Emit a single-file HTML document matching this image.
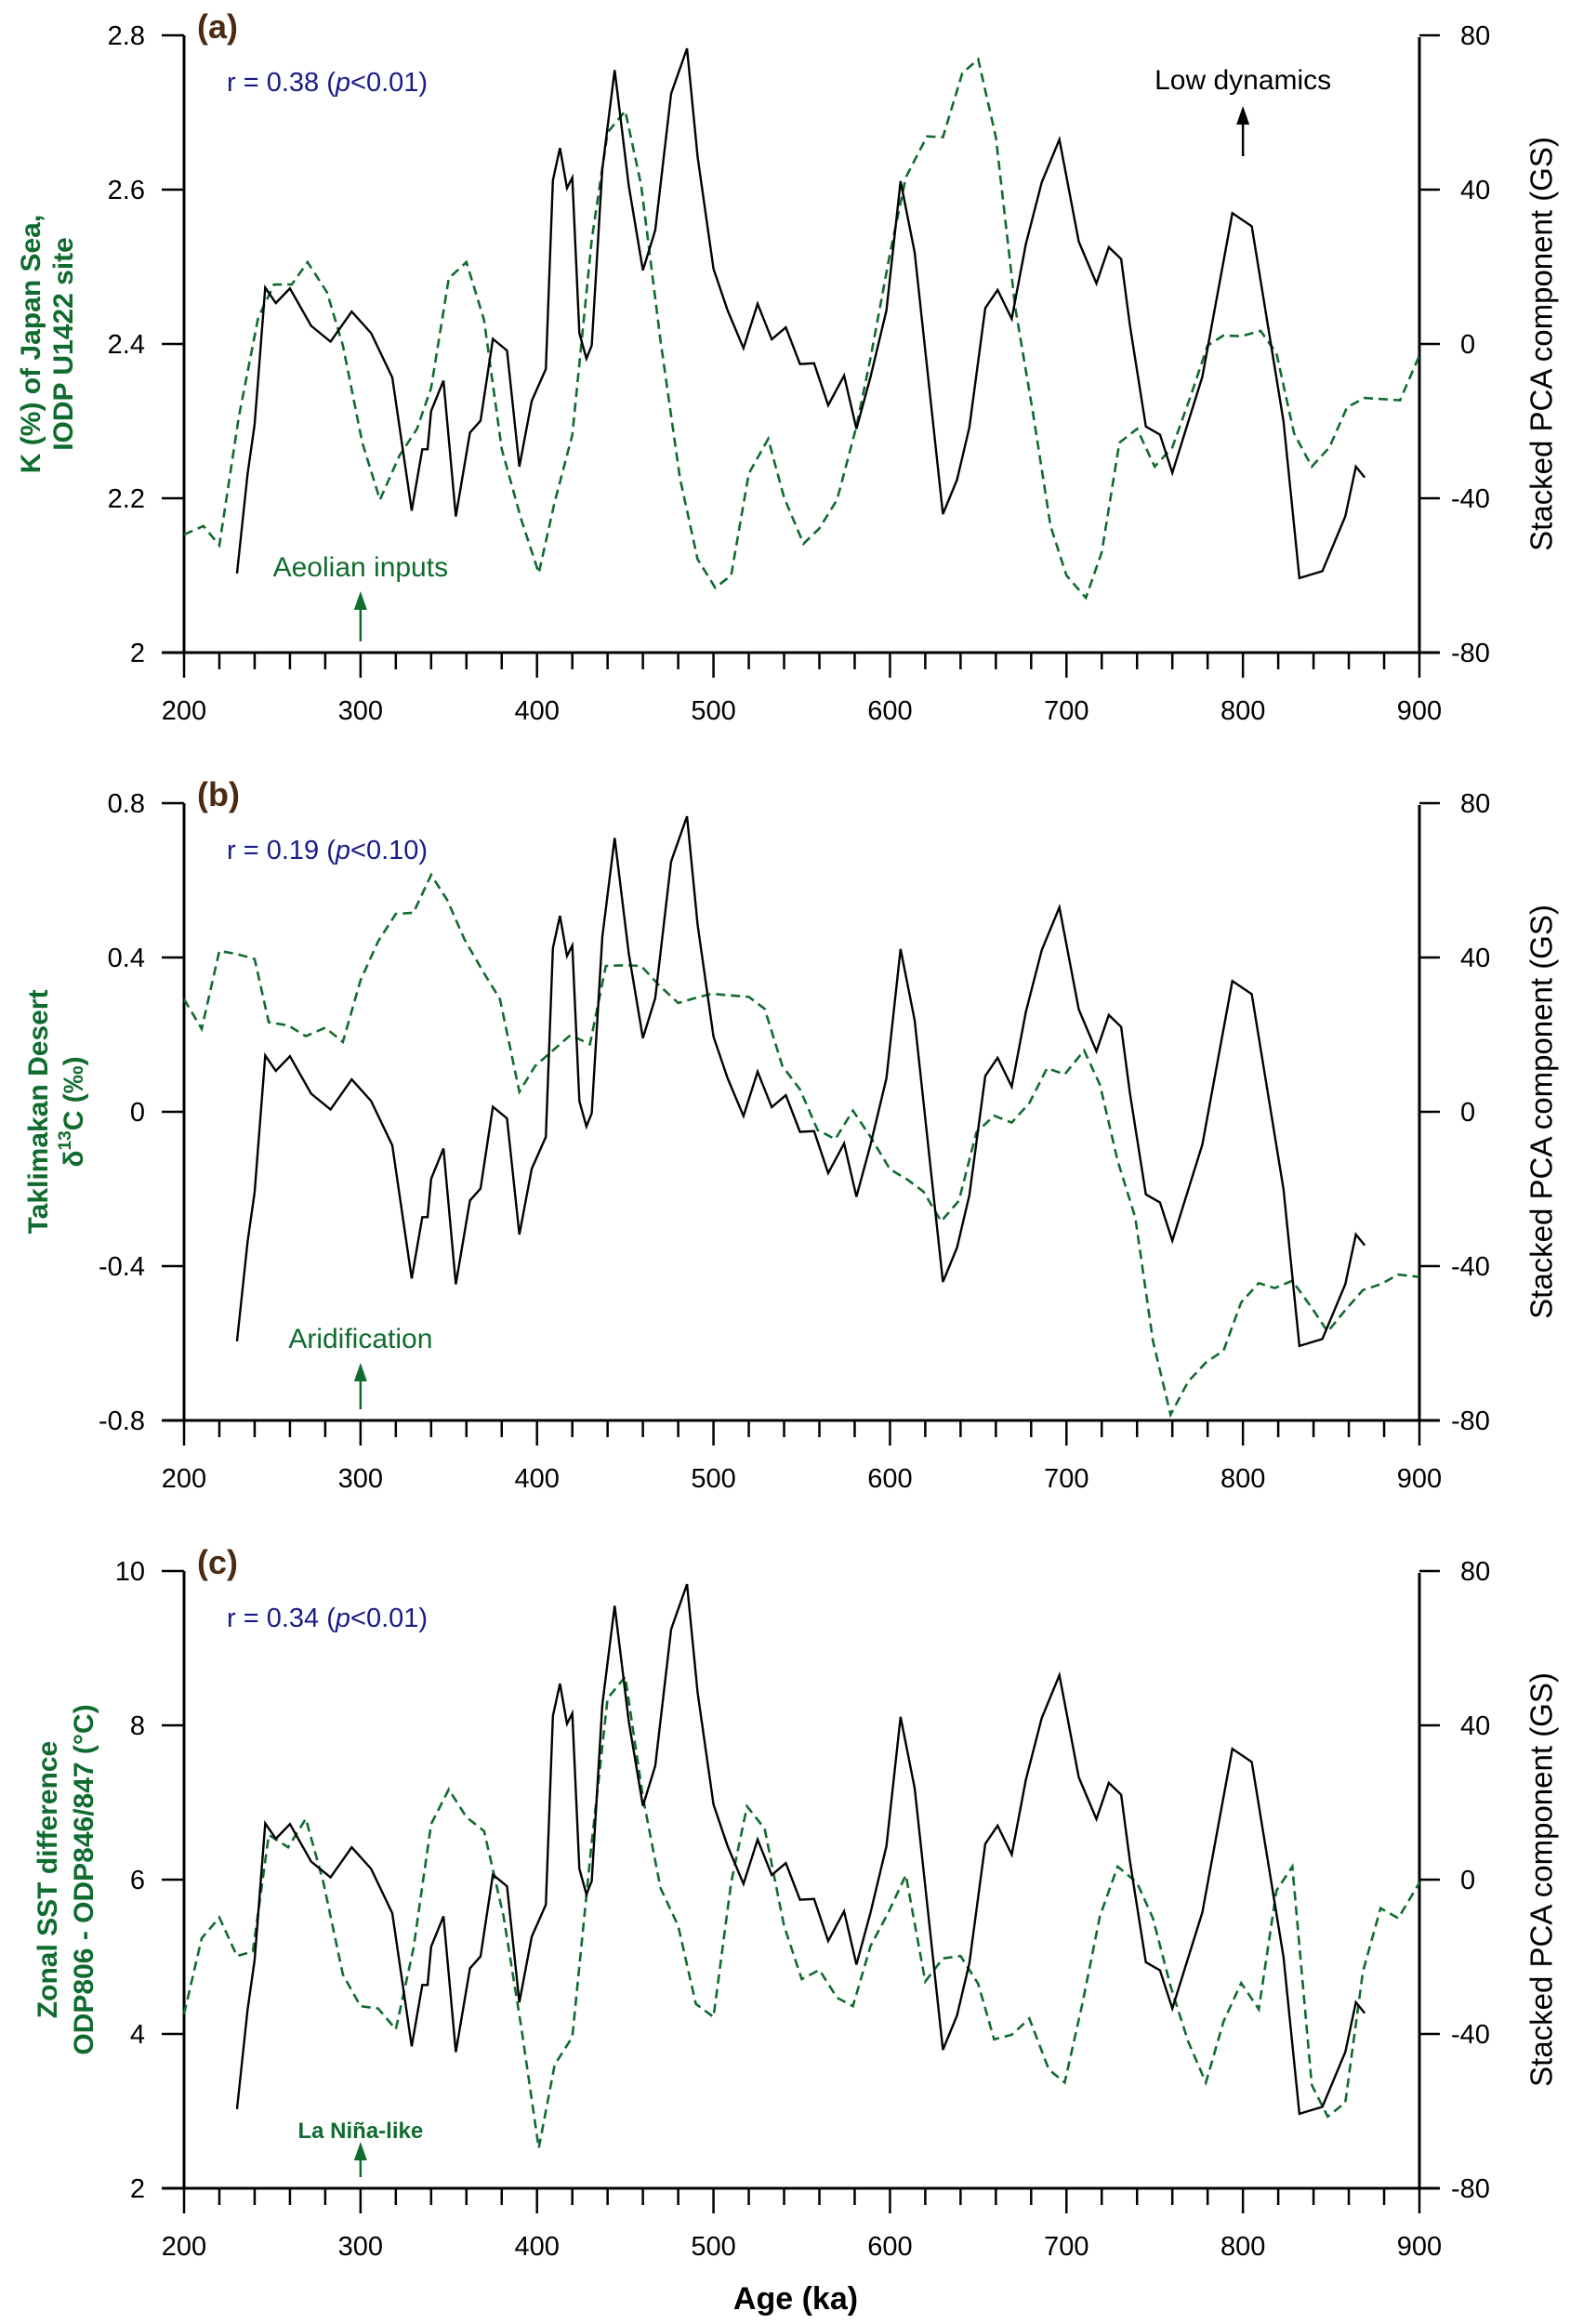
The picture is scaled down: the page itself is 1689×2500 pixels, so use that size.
<!DOCTYPE html>
<html><head><meta charset="utf-8"><style>
html,body{margin:0;padding:0;background:#fff;}
svg{display:block;font-family:"Liberation Sans",Arial,sans-serif;}
</style></head><body>
<svg id="chart" width="1689" height="2500" viewBox="0 0 1689 2500" xmlns="http://www.w3.org/2000/svg"></svg>
<script>
const gsAges=[230,236,240,246,252,260,272,283,295,306,318,329,335,338,340,347,354,362,368,375,383,390,397,405,409,413,417,420,424,428,431,437,444,452,460,467,476,485,491,500,508,517,525,533,541,549,557,565,574,581,589,598,606,614,630,638,645,654,661,669,677,686,696,707,717,724,731,736,745,753,760,777,794,805,823,832,845,858,864,869];
const gsValues=[-59.5,-33.7,-20.8,14.6,10.6,14.4,4.7,0.6,8.4,2.8,-8.7,-43.2,-27.3,-27.3,-17.4,-9.5,-44.7,-23,-19.9,1.3,-1.7,-31.8,-14.8,-6.5,42.4,50.8,40.4,43.1,2.8,-3.8,-0.4,45.3,71,41,19.1,29.5,64.9,76.6,48.5,19.5,8.7,-1.1,10.4,1.2,4.3,-5.2,-5,-15.9,-8.2,-22,-8.5,8.7,42.2,23.7,-44.1,-35.2,-21.6,9.3,14,6.5,25.9,41.9,53,26.5,15.7,25.1,22,4.7,-21.4,-23.5,-33.4,-8.5,33.9,30.5,-20.1,-60.7,-58.9,-44.7,-31.8,-34.6];
const kAges=[200,211,220,231,242,251,261,270,281,290,301,311,322,332,340,350,360,370,380,391,401,410,420,431,440,450,459,470,481,491,501,510,520,531,540,551,560,570,581,589,600,609,621,630,641,650,660,671,681,691,700,711,720,730,740,750,760,770,780,789,799,810,819,829,839,849,859,869,889,900];
const kValues=[2.153,2.164,2.139,2.305,2.434,2.477,2.477,2.506,2.467,2.398,2.272,2.198,2.255,2.290,2.343,2.485,2.506,2.431,2.264,2.173,2.103,2.195,2.282,2.535,2.674,2.702,2.606,2.404,2.226,2.121,2.084,2.100,2.232,2.277,2.201,2.141,2.161,2.198,2.293,2.382,2.517,2.616,2.669,2.668,2.751,2.769,2.668,2.447,2.311,2.164,2.100,2.071,2.130,2.272,2.290,2.241,2.266,2.330,2.398,2.411,2.410,2.417,2.388,2.284,2.241,2.266,2.318,2.330,2.327,2.385];
const d13Ages=[200,210,220,230,240,248,259,269,280,290,300,310,320,330,340,349,359,370,379,390,399,409,419,430,439,450,459,469,480,489,499,509,520,529,539,549,559,569,579,589,600,610,619,629,639,649,659,669,679,689,699,710,719,729,739,749,759,769,779,789,799,809,818,828,839,848,858,868,878,888,900];
const d13Values=[0.292,0.215,0.417,0.409,0.396,0.232,0.224,0.196,0.218,0.181,0.341,0.442,0.513,0.516,0.614,0.550,0.446,0.359,0.292,0.052,0.119,0.159,0.199,0.175,0.378,0.380,0.378,0.329,0.282,0.294,0.306,0.302,0.298,0.267,0.119,0.058,-0.047,-0.071,0.003,-0.065,-0.149,-0.176,-0.207,-0.284,-0.231,-0.053,-0.010,-0.028,0.023,0.113,0.097,0.159,0.070,-0.127,-0.274,-0.594,-0.785,-0.699,-0.650,-0.619,-0.494,-0.444,-0.457,-0.438,-0.508,-0.570,-0.514,-0.462,-0.447,-0.422,-0.428];
const sstAges=[200,210,220,230,239,248,259,269,279,290,300,310,320,330,340,350,360,370,381,391,401,410,420,431,440,450,460,470,480,490,500,510,519,529,540,550,560,570,579,589,599,609,620,630,640,650,659,669,679,690,699,709,719,729,740,749,759,769,779,789,799,809,819,828,839,848,858,868,878,888,900];
const sstValues=[4.26,5.24,5.51,5.01,5.07,6.58,6.42,6.79,5.96,4.77,4.36,4.33,4.06,5.11,6.72,7.17,6.81,6.63,5.53,4.10,2.52,3.60,3.96,6.48,8.35,8.63,7.07,5.89,5.40,4.39,4.22,5.96,6.95,6.66,5.40,4.71,4.83,4.47,4.36,5.14,5.57,6.06,4.68,4.98,5.01,4.65,3.93,3.99,4.20,3.54,3.37,4.39,5.53,6.17,5.96,5.50,4.62,3.90,3.37,4.16,4.66,4.32,5.86,6.17,3.34,2.93,3.11,4.81,5.63,5.50,5.96];
const xTicks=[200,300,400,500,600,700,800,900];
const rightTicks=[80,40,0,-40,-80];
const ticksA=["2","2.2","2.4","2.6","2.8"];
const ticksB=["-0.8","-0.4","0","0.4","0.8"];
const ticksC=["2","4","6","8","10"];

const NS="http://www.w3.org/2000/svg";
const svg=document.getElementById('chart');
const GREEN="#0f6b2e",NAVY="#1a1a8a",BROWN="#4a2a12";
const X0=198,X1=1527;
const xs=a=>X0+(a-200)/700*(X1-X0);
function mk(tag,attrs,parent){const e=document.createElementNS(NS,tag);for(const k in attrs)e.setAttribute(k,attrs[k]);(parent||svg).appendChild(e);return e;}
function txt(s,attrs,parent){const e=mk('text',attrs,parent);e.textContent=s;return e;}

const panels=[
 {id:'a',top:38,lmin:2,lmax:2.8,lt:ticksA,ages:kAges,vals:kValues,r:'r = 0.38 (',p:'<0.01)',
  title:['K (%) of Japan Sea,','IODP U1422 site'],tx:[35,70],
  ann:'Aeolian inputs',annY:610,annBold:false},
 {id:'b',top:864,lmin:-0.8,lmax:0.8,lt:ticksB,ages:d13Ages,vals:d13Values,r:'r = 0.19 (',p:'<0.10)',
  title:['Taklimakan Desert','δ13C (‰)'],tx:[43,81],
  ann:'Aridification',annY:1440,annBold:false},
 {id:'c',top:1690,lmin:2,lmax:10,lt:ticksC,ages:sstAges,vals:sstValues,r:'r = 0.34 (',p:'<0.01)',
  title:['Zonal SST difference','ODP806 - ODP846/847 (°C)'],tx:[53,92],
  ann:'La Niña-like',annY:2290,annBold:true}
];
const H=664;
panels.forEach(P=>{
  const g=mk('g',{});
  
  
  const B=P.top+H;
  const yl=v=>B-(v-P.lmin)/(P.lmax-P.lmin)*H;
  const yr=v=>B-(v+80)/160*H;
  const ax=mk('path',{d:`M${X0},${P.top}V${B}M${X1},${P.top+2}V${B}M174,${B}H1549`,stroke:'#000','stroke-width':3,fill:'none'},g);
  
  
  for(let a=200;a<=900;a+=20){
    const major=(a%100===0);
    mk('line',{x1:xs(a),x2:xs(a),y1:B,y2:B+(major?27:18),stroke:'#000','stroke-width':2.5},g);
  }
  xTicks.forEach(a=>{
    const t=txt(String(a),{x:xs(a),y:B+72,'text-anchor':'middle','font-size':29,fill:'#000'},g);
    
    
  });
  P.lt.forEach((s,i)=>{
    const v=P.lmin+i*(P.lmax-P.lmin)/4;
    mk('line',{x1:174,x2:X0,y1:yl(v),y2:yl(v),stroke:'#000','stroke-width':2.5},g);
    const t=txt(s,{x:156,y:yl(v)+10,'text-anchor':'end','font-size':29,fill:'#000'},g);
    
    
  });
  rightTicks.forEach(v=>{
    mk('line',{x1:X1,x2:1549,y1:yr(v),y2:yr(v),stroke:'#000','stroke-width':2.5},g);
    const t=txt(String(v),{x:v<0?1561:1571,y:yr(v)+10,'font-size':29,fill:'#000'},g);
    
    
  });
  const gp=mk('polyline',{points:P.ages.map((a,i)=>xs(a)+','+yl(P.vals[i])).join(' '),fill:'none',stroke:GREEN,'stroke-width':2.6,'stroke-dasharray':'10,6'},g);
  
  
  const bp=mk('polyline',{points:gsAges.map((a,i)=>xs(a)+','+yr(gsValues[i])).join(' '),fill:'none',stroke:'#000','stroke-width':2.4,'stroke-linejoin':'miter'},g);
  
  
  const pl=txt('('+P.id+')',{x:212,y:P.top+3,'font-size':36,'font-weight':'bold',fill:BROWN},g);
  
  
  const rt=mk('text',{x:244,y:P.top+60,'font-size':29,fill:NAVY},g);
  
  
  rt.appendChild(document.createTextNode(P.r));
  const it=document.createElementNS(NS,'tspan');it.setAttribute('font-style','italic');it.textContent='p';rt.appendChild(it);
  rt.appendChild(document.createTextNode(P.p));
  const cy=P.top+H/2;
  P.title.forEach((s,i)=>{
    const t=mk('text',{x:P.tx[i],y:cy,'text-anchor':'middle','font-size':30,'font-weight':'bold',fill:GREEN,transform:`rotate(-90 ${P.tx[i]} ${cy})`,'dominant-baseline':'middle'},g);
    
    
    if(s.startsWith('δ13C')){
      t.appendChild(document.createTextNode('δ'));
      const sp=document.createElementNS(NS,'tspan');sp.setAttribute('font-size',19);sp.setAttribute('dy',-10);sp.textContent='13';t.appendChild(sp);
      const sp2=document.createElementNS(NS,'tspan');sp2.setAttribute('dy',10);sp2.textContent='C (‰)';t.appendChild(sp2);
    } else t.textContent=s;
  });
  const rx=1661;
  const rtt=txt('Stacked PCA component (GS)',{x:rx,y:cy,'text-anchor':'middle','font-size':33,fill:'#000',transform:`rotate(-90 ${rx} ${cy})`,'dominant-baseline':'middle'},g);
  
  
  const at=txt(P.ann,{x:xs(300),y:P.annY+10,'text-anchor':'middle','font-size':P.annBold?24:30,'font-weight':P.annBold?'bold':'normal',fill:GREEN},g);
  
  
  const ay1=P.annY+(P.annBold?14:26), ay2=B-12;
  mk('line',{x1:xs(300),x2:xs(300),y1:ay1+12,y2:ay2,stroke:GREEN,'stroke-width':2.5},g);
  const ah=mk('path',{d:`M${xs(300)-7},${ay1+20}L${xs(300)},${ay1}L${xs(300)+7},${ay1+20}Z`,fill:GREEN},g);
  
  
  if(P.id==='a'){
    const lt=txt('Low dynamics',{x:xs(800),y:96,'text-anchor':'middle','font-size':30,fill:'#000'},g);
    
    
    mk('line',{x1:xs(800),x2:xs(800),y1:125,y2:168,stroke:'#000','stroke-width':2.5},g);
    const la=mk('path',{d:`M${xs(800)-7},${134}L${xs(800)},${114}L${xs(800)+7},${134}Z`,fill:'#000'},g);
    
    
  }
});
const xt=txt('Age (ka)',{x:856,y:2484,'text-anchor':'middle','font-size':34,'font-weight':'bold',fill:'#000'});


</script>
</body></html>
